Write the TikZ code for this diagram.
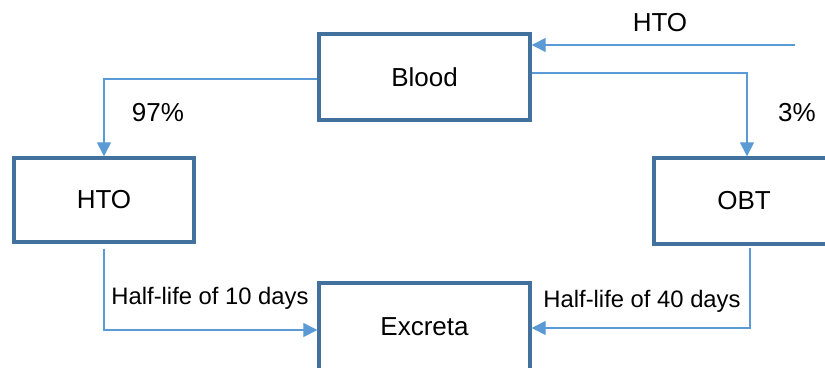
\documentclass[tikz,border=0pt]{standalone}
\usepackage{fontspec}
\setmainfont{Liberation Sans}
\usetikzlibrary{arrows.meta}

\definecolor{boxline}{HTML}{41719C}
\definecolor{flowline}{HTML}{5B9BD5}

\tikzset{
  tritium box/.style={draw=boxline,line width=3.4pt,fill=white,rectangle,
    inner sep=0pt,font=\fontsize{26}{30}\selectfont},
  tritium flow/.style={draw=flowline,line width=1.3pt,
    -{Triangle[length=14pt,width=14pt]}},
  tritium label/.style={inner sep=0pt,font=\fontsize{26}{30}\selectfont},
  halflife label/.style={inner sep=0pt,font=\fontsize{23.8}{28}\selectfont}
}

\begin{document}
\begin{tikzpicture}[x=1pt,y=-1pt]
      \clip (0,0) rectangle (825,367);
      \fill[white] (0,0) rectangle (825,367);
      \node[tritium box,minimum width=211pt,minimum height=86pt] (blood) at (424.5,77) {Blood};
      \node[tritium box,minimum width=180pt,minimum height=84pt] (hto) at (104,200) {HTO};
      \node[tritium box,minimum width=180pt,minimum height=86pt] (obt) at (744,201) {OBT};
      \node[tritium box,minimum width=211pt,minimum height=88pt] (excreta) at (424.5,327) {Excreta};
      \coordinate (intake) at (795,45);
      \draw[tritium flow] (intake) -- (intake -| blood.east);
      \draw[tritium flow] ([yshift=-2pt]blood.west) -| (hto.north);
      \draw[tritium flow] ([yshift=4pt]blood.east) -| ([xshift=3pt]obt.north);
      \draw[tritium flow] ([yshift=-5pt]hto.south) |- ([yshift=-3pt]excreta.west);
      \draw[tritium flow] ([xshift=6pt,yshift=-2pt]obt.south) |- ([yshift=-1pt]excreta.east);
      \node[tritium label] (intakelabel) at (660,23) {HTO};
      \node[tritium label] (share97) at (158,113) {97\%};
      \node[tritium label] (share3) at (797,113) {3\%};
      \node[halflife label] (halflife10) at (210,298) {Half-life of 10 days};
      \node[halflife label] (halflife40) at (642,301) {Half-life of 40 days};
    \end{tikzpicture}
\end{document}
